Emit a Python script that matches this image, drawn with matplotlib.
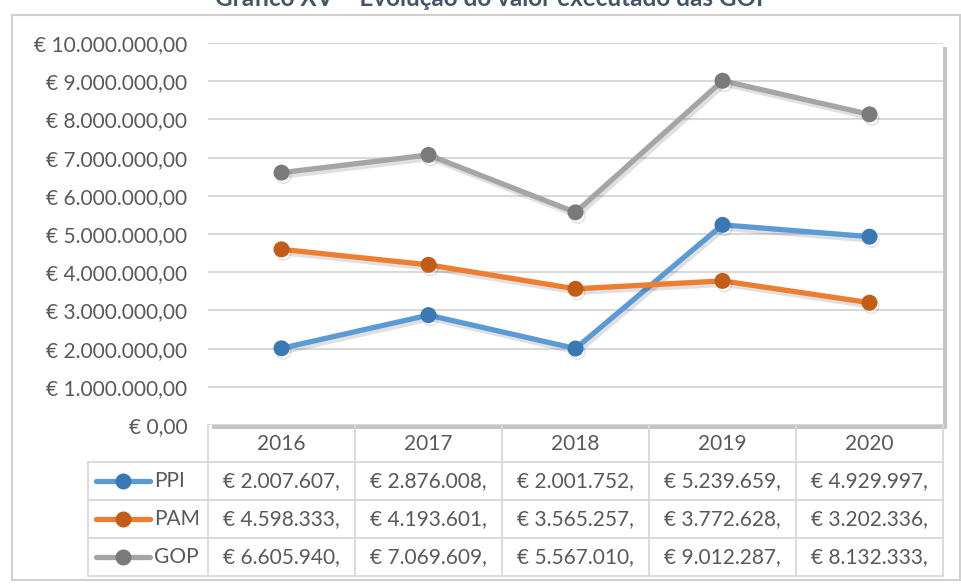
import matplotlib
matplotlib.use("Agg")
import matplotlib.pyplot as plt
import matplotlib.patheffects as pe
from matplotlib.patches import Rectangle
from matplotlib.lines import Line2D
from matplotlib.transforms import blended_transform_factory

plt.rcParams['font.family'] = ['Lato', 'DejaVu Sans']

years = ["2016", "2017", "2018", "2019", "2020"]
series_names = ["PPI", "PAM", "GOP"]
ppi = [2007607, 2876008, 2001752, 5239659, 4929997]
pam = [4598333, 4193601, 3565257, 3772628, 3202336]
gop = [6605940, 7069609, 5567010, 9012287, 8132333]
y_ticks = [0, 1000000, 2000000, 3000000, 4000000, 5000000,
           6000000, 7000000, 8000000, 9000000, 10000000]
title = "Gráfico XV – Evolução do valor executado das GOP"

line_colors = ["#5B9BD5", "#ED7D31", "#A5A5A5"]
marker_colors = ["#3A78B5", "#C25D17", "#7A7A7A"]
text_col = "#595959"
grid_col = "#D9D9D9"

W, H = 962, 585
fig = plt.figure(figsize=(W / 100, H / 100), dpi=100, facecolor="white")


def fx(px):
    return px / W


def fy(py):
    return 1 - py / H


# outer chart frame
fig.patches.append(Rectangle((fx(12), fy(580)), fx(960) - fx(12), fy(15) - fy(580),
                             transform=fig.transFigure, fill=False,
                             edgecolor="#D0D0D0", linewidth=1.5))

# title, cut off at the top edge as in the source image
fig.text(fx(493), fy(6), title, ha="center", va="baseline", fontsize=17.5,
         fontweight="bold", color="#44546A")

ax = fig.add_axes([fx(208), fy(425), fx(943) - fx(208), fy(43) - fy(425)])
ax.patch.set_facecolor("white")
ax.patch.set_path_effects([pe.SimplePatchShadow(offset=(3, -3), shadow_rgbFace="#808080", alpha=0.45),
                           pe.Normal()])

x = list(range(len(years)))
for vals, lc, mc in zip([ppi, pam, gop], line_colors, marker_colors):
    ax.plot(x, vals, color=lc, linewidth=3.8, solid_capstyle="round", zorder=3,
            marker="o", markersize=10.5, markerfacecolor=mc, markeredgecolor=mc,
            path_effects=[pe.SimpleLineShadow(offset=(1.5, -2.5), shadow_color="black", alpha=0.12),
                          pe.Normal()])

ax.set_xlim(-0.5, len(years) - 0.5)
ax.set_ylim(0, 10000000)
ax.set_yticks(y_ticks)
ax.set_yticklabels(["€ " + f"{v:,.2f}".replace(",", "X").replace(".", ",").replace("X", ".")
                    for v in y_ticks])
ax.tick_params(axis="y", length=0, pad=15, labelsize=15, labelcolor=text_col)
ax.set_xticks([])
ax.yaxis.grid(True, color=grid_col, linewidth=1.5)
ax.set_axisbelow(True)
for s in ax.spines.values():
    s.set_visible(False)

# data table below the plot
tr = blended_transform_factory(ax.transData, fig.transFigure)
row_edges = [425, 462, 500, 538, 576]
lw = 1.3
for r in row_edges[1:]:
    fig.add_artist(Line2D([fx(88), fx(943)], [fy(r), fy(r)], transform=fig.transFigure,
                          color=grid_col, linewidth=lw))
fig.add_artist(Line2D([fx(88), fx(88)], [fy(462), fy(576)], transform=fig.transFigure,
                      color=grid_col, linewidth=lw))
for i in range(len(years) + 1):
    fig.add_artist(Line2D([i - 0.5, i - 0.5], [fy(425), fy(576)], transform=tr,
                          color=grid_col, linewidth=lw))

for i, yr in enumerate(years):
    fig.text(i, fy(444), yr, transform=tr, ha="center", va="center",
             fontsize=15, color=text_col)

for r, (name, vals, lc, mc) in enumerate(zip(series_names, [ppi, pam, gop],
                                             line_colors, marker_colors)):
    yc = fy((row_edges[r + 1] + row_edges[r + 2]) / 2)
    fig.add_artist(Line2D([fx(96), fx(150)], [yc, yc], transform=fig.transFigure,
                          color=lc, linewidth=3.8, solid_capstyle="round"))
    fig.add_artist(Line2D([fx(123)], [yc], transform=fig.transFigure, marker="o",
                          markersize=10.5, markerfacecolor=mc, markeredgecolor=mc))
    fig.text(fx(154), yc, name, ha="left", va="center", fontsize=15, color=text_col)
    for i, v in enumerate(vals):
        fig.text(i, yc, "€ " + f"{v:,}".replace(",", ".") + ",", transform=tr,
                 ha="center", va="center", fontsize=15, color=text_col)

fig.savefig("out.png", dpi=100, facecolor="white")
